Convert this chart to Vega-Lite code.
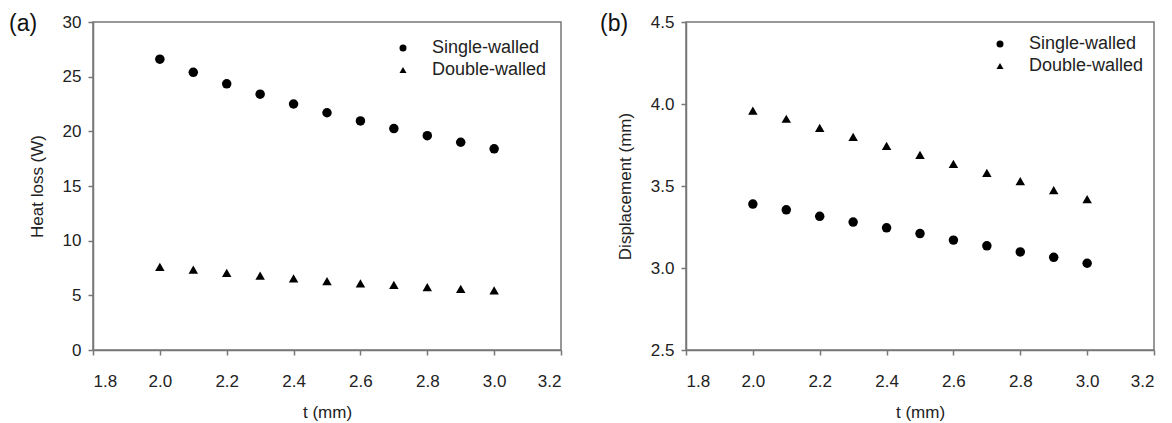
{
  "$schema": "https://vega.github.io/schema/vega-lite/v6.json",
  "padding": {"left": 8, "top": 12, "right": 5, "bottom": 5},
  "background": "white",
  "datasets": {
    "heat": [
      {"t": 2.0, "series": "Single-walled", "value": 26.6},
      {"t": 2.1, "series": "Single-walled", "value": 25.4},
      {"t": 2.2, "series": "Single-walled", "value": 24.35},
      {"t": 2.3, "series": "Single-walled", "value": 23.4},
      {"t": 2.4, "series": "Single-walled", "value": 22.5},
      {"t": 2.5, "series": "Single-walled", "value": 21.7},
      {"t": 2.6, "series": "Single-walled", "value": 20.95},
      {"t": 2.7, "series": "Single-walled", "value": 20.25},
      {"t": 2.8, "series": "Single-walled", "value": 19.6},
      {"t": 2.9, "series": "Single-walled", "value": 19.0},
      {"t": 3.0, "series": "Single-walled", "value": 18.4},
      {"t": 2.0, "series": "Double-walled", "value": 7.6},
      {"t": 2.1, "series": "Double-walled", "value": 7.35},
      {"t": 2.2, "series": "Double-walled", "value": 7.05},
      {"t": 2.3, "series": "Double-walled", "value": 6.8},
      {"t": 2.4, "series": "Double-walled", "value": 6.55},
      {"t": 2.5, "series": "Double-walled", "value": 6.3},
      {"t": 2.6, "series": "Double-walled", "value": 6.1},
      {"t": 2.7, "series": "Double-walled", "value": 5.95},
      {"t": 2.8, "series": "Double-walled", "value": 5.75},
      {"t": 2.9, "series": "Double-walled", "value": 5.6},
      {"t": 3.0, "series": "Double-walled", "value": 5.45}
    ],
    "disp": [
      {"t": 2.0, "series": "Single-walled", "value": 3.39},
      {"t": 2.1, "series": "Single-walled", "value": 3.355},
      {"t": 2.2, "series": "Single-walled", "value": 3.315},
      {"t": 2.3, "series": "Single-walled", "value": 3.28},
      {"t": 2.4, "series": "Single-walled", "value": 3.245},
      {"t": 2.5, "series": "Single-walled", "value": 3.21},
      {"t": 2.6, "series": "Single-walled", "value": 3.17},
      {"t": 2.7, "series": "Single-walled", "value": 3.135},
      {"t": 2.8, "series": "Single-walled", "value": 3.098},
      {"t": 2.9, "series": "Single-walled", "value": 3.065},
      {"t": 3.0, "series": "Single-walled", "value": 3.029},
      {"t": 2.0, "series": "Double-walled", "value": 3.96},
      {"t": 2.1, "series": "Double-walled", "value": 3.91},
      {"t": 2.2, "series": "Double-walled", "value": 3.855},
      {"t": 2.3, "series": "Double-walled", "value": 3.8},
      {"t": 2.4, "series": "Double-walled", "value": 3.745},
      {"t": 2.5, "series": "Double-walled", "value": 3.69},
      {"t": 2.6, "series": "Double-walled", "value": 3.635},
      {"t": 2.7, "series": "Double-walled", "value": 3.58},
      {"t": 2.8, "series": "Double-walled", "value": 3.53},
      {"t": 2.9, "series": "Double-walled", "value": 3.475},
      {"t": 3.0, "series": "Double-walled", "value": 3.42}
    ]
  },
  "spacing": 36,
  "resolve": {"scale": {"shape": "independent"}, "legend": {"shape": "independent"}},
  "hconcat": [
    {
      "width": 468,
      "height": 328,
      "title": {"text": "(a)", "anchor": "start", "frame": "group", "fontSize": 23, "fontWeight": "normal", "font": "Liberation Sans", "color": "#111", "baseline": "top", "offset": -33, "dy": -10, "dx": -84},
      "data": {"name": "heat"},
      "mark": {"type": "point", "filled": true, "size": 90, "color": "black", "opacity": 1},
      "encoding": {
        "x": {"field": "t", "type": "quantitative", "title": "t (mm)",
              "scale": {"domain": [1.8, 3.2], "nice": false, "zero": false},
              "axis": {"values": [1.8, 2.0, 2.2, 2.4, 2.6, 2.8, 3.0, 3.2], "format": ".1f"}},
        "y": {"field": "value", "type": "quantitative", "title": "Heat loss (W)",
              "scale": {"domain": [0, 30], "nice": false},
              "axis": {"values": [0, 5, 10, 15, 20, 25, 30], "format": "d"}},
        "shape": {"field": "series", "type": "nominal",
                  "scale": {"domain": ["Single-walled", "Double-walled"], "range": ["circle", "triangle-up"]},
                  "legend": {"title": null, "orient": "none", "legendX": 301, "legendY": 17}}
      }
    },
    {
      "width": 468,
      "height": 328,
      "title": {"text": "(b)", "anchor": "start", "frame": "group", "fontSize": 23, "fontWeight": "normal", "font": "Liberation Sans", "color": "#111", "baseline": "top", "offset": -33, "dy": -10, "dx": -86},
      "data": {"name": "disp"},
      "mark": {"type": "point", "filled": true, "size": 90, "color": "black", "opacity": 1},
      "encoding": {
        "x": {"field": "t", "type": "quantitative", "title": "t (mm)",
              "scale": {"domain": [1.8, 3.2], "nice": false, "zero": false},
              "axis": {"values": [1.8, 2.0, 2.2, 2.4, 2.6, 2.8, 3.0, 3.2], "format": ".1f"}},
        "y": {"field": "value", "type": "quantitative", "title": "Displacement (mm)",
              "scale": {"domain": [2.5, 4.5], "nice": false, "zero": false},
              "axis": {"values": [2.5, 3.0, 3.5, 4.0, 4.5], "format": ".1f"}},
        "shape": {"field": "series", "type": "nominal",
                  "scale": {"domain": ["Single-walled", "Double-walled"], "range": ["circle", "triangle-up"]},
                  "legend": {"title": null, "orient": "none", "legendX": 305, "legendY": 13}}
      }
    }
  ],
  "config": {
    "font": "Liberation Sans",
    "view": {"stroke": "#777", "strokeWidth": 1.5},
    "axis": {
      "grid": false,
      "domainColor": "#777", "domainWidth": 1.5,
      "tickColor": "#777", "tickWidth": 1.5, "tickSize": 5,
      "labelFont": "Liberation Sans", "labelFontSize": 17, "labelColor": "#222",
      "titleFont": "Liberation Sans", "titleFontSize": 17, "titleFontWeight": "normal", "titleColor": "#222"
    },
    "axisX": {"labelPadding": 18, "titlePadding": 15},
    "axisY": {"labelPadding": 7, "titlePadding": 16},
    "legend": {
      "padding": 0,
      "labelFont": "Liberation Sans", "labelFontSize": 18, "labelColor": "#222",
      "symbolSize": 49, "symbolFillColor": "black", "symbolStrokeColor": "black", "symbolStrokeWidth": 0,
      "labelOffset": 20, "rowPadding": 4
    }
  }
}
